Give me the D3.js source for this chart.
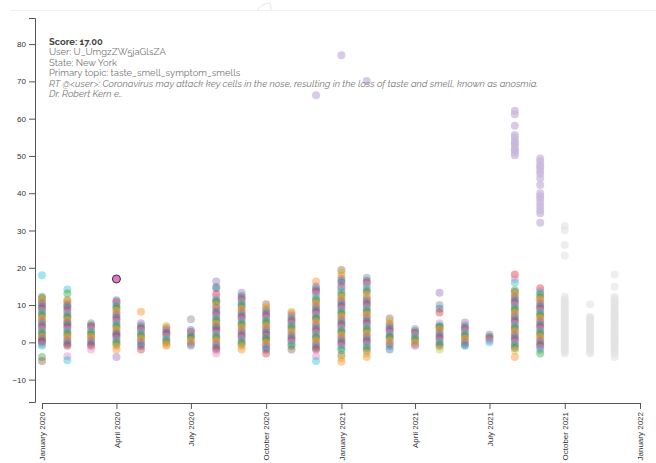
<!DOCTYPE html>
<html>
<head>
<meta charset="utf-8">
<script src="https://cdn.jsdelivr.net/npm/d3@7"></script>
<style>
  html, body { margin: 0; padding: 0; background: #fff; }
  svg { display: block; }
  .axis text { font-family: "Liberation Sans", Arial, sans-serif; font-size: 8px; fill: #333; }
  .axis path, .axis line { stroke: #555; }
  .tip { font-family: Raleway, Lato, "Open Sans", sans-serif; font-size: 9.45px; }
</style>
</head>
<body>
<svg id="chart" width="656" height="463"></svg>
<script>
// ---------- data ----------
const months = ["2020-01-01","2020-02-01","2020-03-01","2020-04-01","2020-05-01","2020-06-01",
  "2020-07-01","2020-08-01","2020-09-01","2020-10-01","2020-11-01","2020-12-01",
  "2021-01-01","2021-02-01","2021-03-01","2021-04-01","2021-05-01","2021-06-01",
  "2021-07-01","2021-08-01","2021-09-01","2021-10-01","2021-11-01","2021-12-01"];

// scores of tweets (all topics) per month
const scores = [
  [18,12.2,11.8,11.3,10.8,10.5,10,9.5,9,8.5,8.2,7.5,7,6.5,6,5.5,5,4.5,4,3.5,3,2.5,2,1.5,1.2,1,0.5,0.3,0,-0.5,-0.9,-3.9,-5],
  [14.2,13.1,11.3,11,10.5,10,9.6,9.2,8.5,8,7.5,7,6.5,6,5.5,5.2,5,4.5,4,3.5,3,2.5,2,1.5,1,0.5,0,-0.5,-0.9,-3.7,-4.8],
  [5.1,4.6,4.2,3.5,3,2.5,2,1.5,1.2,0.5,0,-0.5,-0.9,-1.9],
  [11.3,10.8,10.5,10,9.5,9,8.5,8,7.5,7,6.5,6,5.5,5,4.5,4,3.5,3,2.5,2.2,2,1.5,1,0.5,0,-0.5,-1,-1.9,-3.9],
  [8.2,5.1,4.5,4,3.5,3,2.5,2,1.5,1,0.5,0,-0.5,-1,-1.9],
  [4.4,4,3.5,3,2.5,2.2,1.5,1,0.5,0,-0.5,-0.9],
  [6.2,3.3,2.8,2.5,2,1.5,1.2,0.5,0,-0.5,-0.9],
  [16.3,14.9,14.5,13,12.3,11.5,11,10.8,10,9.5,9.3,8.5,8,7.5,7,6.5,6,5.5,5,4.5,4.2,4,3.5,3,2.5,2,1.5,1,0.5,0,-0.5,-1,-1.5,-2,-3],
  [13.3,12.5,12,11.5,11,10.5,10,9.5,9,8.5,8,7.5,7,6.5,6.2,5.5,5,4.5,4,3.5,3,2.5,2,1.5,1.2,0.5,0,-0.5,-1,-1.9],
  [10.2,9.5,9,8.5,8,7.5,7,6.5,6,5.5,5,4.5,4,3.5,3,2.5,2,1.5,1.2,1,0.5,0,-0.5,-1,-1.5,-2,-3],
  [8.2,7.8,7.2,6.5,6,5.5,5,4.5,4.2,3.5,3,2.5,2,1.5,1,0.5,0,-0.5,-1,-1.9],
  [16.3,15,14.5,14,13.5,13,12.2,11.5,11,10.5,10,9.5,9,8.5,8,7.5,7,6.5,6.2,5.5,5,4.5,4,3.5,3,2.5,2,1.5,1,0.5,0,-0.5,-1,-1.5,-2,-3.7,-5],
  [19.4,18.7,17.8,17,16.5,16,15,14.5,14,13.2,12.5,12.2,11.5,11,10.5,10,9.5,9,8.5,8,7.5,7,6.5,6,5.5,5,4.5,4,3.5,3,2.5,2,1.5,1,0.5,0,-0.5,-1,-1.5,-2.1,-3.4,-4.2,-5.2],
  [17.3,16.5,16,15.5,14.8,14,13.5,12.5,12,11.5,11,10.5,10,9.5,9,8.5,8,7.5,7,6.5,6,5.5,5,4.5,4,3.5,3,2.5,2,1.5,1,0.5,0,-0.5,-1,-1.5,-2.2,-3,-3.9],
  [6.4,5.5,5,4.5,4,3.5,3,2.5,2,1.5,1.2,0.5,0,-0.5,-1,-1.9],
  [3.6,3,2.5,2,1.5,1,0.5,0,-0.5,-0.9],
  [13.3,10,9,8,5.1,4.6,4.2,4,3.5,3,2.5,2,1.5,1,0.5,0,-0.5,-1,-1.9],
  [5.3,4.5,4,3.5,3,2.5,2,1.5,1,0.5,0,-0.5,-0.9],
  [2.1,1.5,1,0.5,0],
  [18.2,17,16,14,13.5,13,12.5,12,11.5,11,10.5,10,9.5,9,8.5,8,7.5,7,6.5,6,5.5,5,4.5,4,3.5,3,2.5,2,1.5,1,0.5,0,-0.5,-1,-1.5,-2.1,-3.9],
  [14.5,13.8,13.3,12.8,12,11.5,11.2,10.5,10,9.5,9,8.5,8,7.5,7,6.5,6,5.5,5,4.5,4,3.5,3,2.5,2,1.5,1,0.5,0,-0.5,-1,-1.5,-2,-3],
  [31.2,30.1,26.1,23.2,12.2,11.5,11,10.5,10,9.5,9,8.5,8,7.5,7,6.5,6,5.5,5,4.5,4,3.5,3,2.5,2,1.5,1,0.5,0,-0.5,-1,-1.5,-2,-2.5,-3],
  [10.2,6.9,6.5,6,5.5,5,4.5,4,3.5,3,2.5,2,1.5,1,0.5,0,-0.5,-1,-1.5,-2,-2.5,-3],
  [18.2,14.9,12.2,11.6,11,10.5,10,9.5,9,8.5,8,7.5,7,6.5,6,5.5,5,4.5,4,3.5,3,2.5,2,1.5,1,0.5,0,-0.5,-1,-1.5,-2,-2.5,-3,-3.9]
];

// topic (category index) of the highest-scoring tweet in each month
const topTopic = [9,9,7,0,1,8,7,4,4,5,8,1,5,7,5,7,4,4,7,3,3,7,7,7];

// taste/smell topic scores (outliers)
const smellMonths = ["2020-12-01","2021-01-01","2021-02-01","2021-08-01","2021-09-01"];
const smellScores = [
  [66.3],
  [77],
  [70.1],
  [62.1,61.2,58.1,55.6,55,54,53.5,53,52,51.5,51,50.2],
  [49.3,48.5,47.5,47,46,45.2,44,42.2,40,39.2,38.5,37.5,36.5,35.5,34.6,32.1]
];

// months shown without topic colour
const greyMonths = ["2021-10-01","2021-11-01","2021-12-01"];

// selected tweet
const selected = { month: "2020-04-01", score: 17 };
const tipLines = [
  "Score: 17.00",
  "User: U_UmgzZW5jaGlsZA",
  "State: New York",
  "Primary topic: taste_smell_symptom_smells",
  "RT @<user>: Coronavirus may attack key cells in the nose, resulting in the loss of taste and smell, known as anosmia.",
  "Dr. Robert Kern e.."
];

const yTicks = [-10,0,10,20,30,40,50,60,70,80];

// ---------- chart ----------
const svg = d3.select("#chart");
const parse = d3.timeParse("%Y-%m-%d");

const x = d3.scaleTime()
  .domain([parse("2020-01-01"), parse("2022-01-01")])
  .range([42, 640]);
const y = d3.scaleLinear().domain([-16, 87]).range([402, 18]);

const palette = d3.schemeCategory10;

// faint top line + small shape
svg.append("line").attr("x1", 10).attr("x2", 656).attr("y1", 10.5).attr("y2", 10.5)
  .attr("stroke", "#f0f0f0").attr("stroke-width", 1);
svg.append("path").attr("d", "M257,10 C260,6 264,4 269,3 C271,4 271,7 271,10")
  .attr("fill", "none").attr("stroke", "#ddd").attr("stroke-width", 0.8);

// axes
svg.append("g").attr("class", "axis").attr("transform", "translate(35,0)")
  .call(d3.axisLeft(y).tickValues(yTicks));
const gx = svg.append("g").attr("class", "axis").attr("transform", "translate(0,403)")
  .call(d3.axisBottom(x).ticks(d3.timeMonth.every(3)).tickFormat(d3.timeFormat("%B %Y")));
gx.selectAll("text")
  .attr("transform", "rotate(-90)")
  .attr("text-anchor", "end")
  .attr("x", -9).attr("y", 0).attr("dy", "0.35em");

// points
const pts = [];
months.forEach((m, i) => {
  const grey = greyMonths.includes(m);
  scores[i].forEach((v, j) => pts.push({
    date: parse(m), v,
    kind: grey ? "grey" : "topic",
    color: grey ? "#e2e2e2" : palette[(topTopic[i] + j * 3) % 10]
  }));
});
smellMonths.forEach((m, i) => {
  smellScores[i].forEach(v => pts.push({ date: parse(m), v, kind: "smell", color: "#c9b5db" }));
});

const opacity = { grey: 0.6, topic: 0.4, smell: 0.7 };
svg.append("g").selectAll("circle").data(pts).join("circle")
  .attr("cx", d => x(d.date))
  .attr("cy", d => y(d.v))
  .attr("r", 4)
  .attr("fill", d => d.color)
  .attr("fill-opacity", d => opacity[d.kind]);

svg.append("circle")
  .attr("cx", x(parse(selected.month)))
  .attr("cy", y(selected.score))
  .attr("r", 4)
  .attr("fill", "#e377c2")
  .attr("stroke", "#333")
  .attr("stroke-width", 1);

// tooltip text
const tip = svg.append("g").attr("class", "tip").attr("transform", "translate(49,0)");
tipLines.forEach((t, i) => {
  tip.append("text")
    .attr("x", 0).attr("y", 45 + i * 10.4)
    .attr("fill", i === 0 ? "#444" : "#777")
    .attr("font-weight", i === 0 ? "bold" : "normal")
    .attr("font-style", i >= 4 ? "italic" : "normal")
    .text(t);
});
</script>
</body>
</html>
